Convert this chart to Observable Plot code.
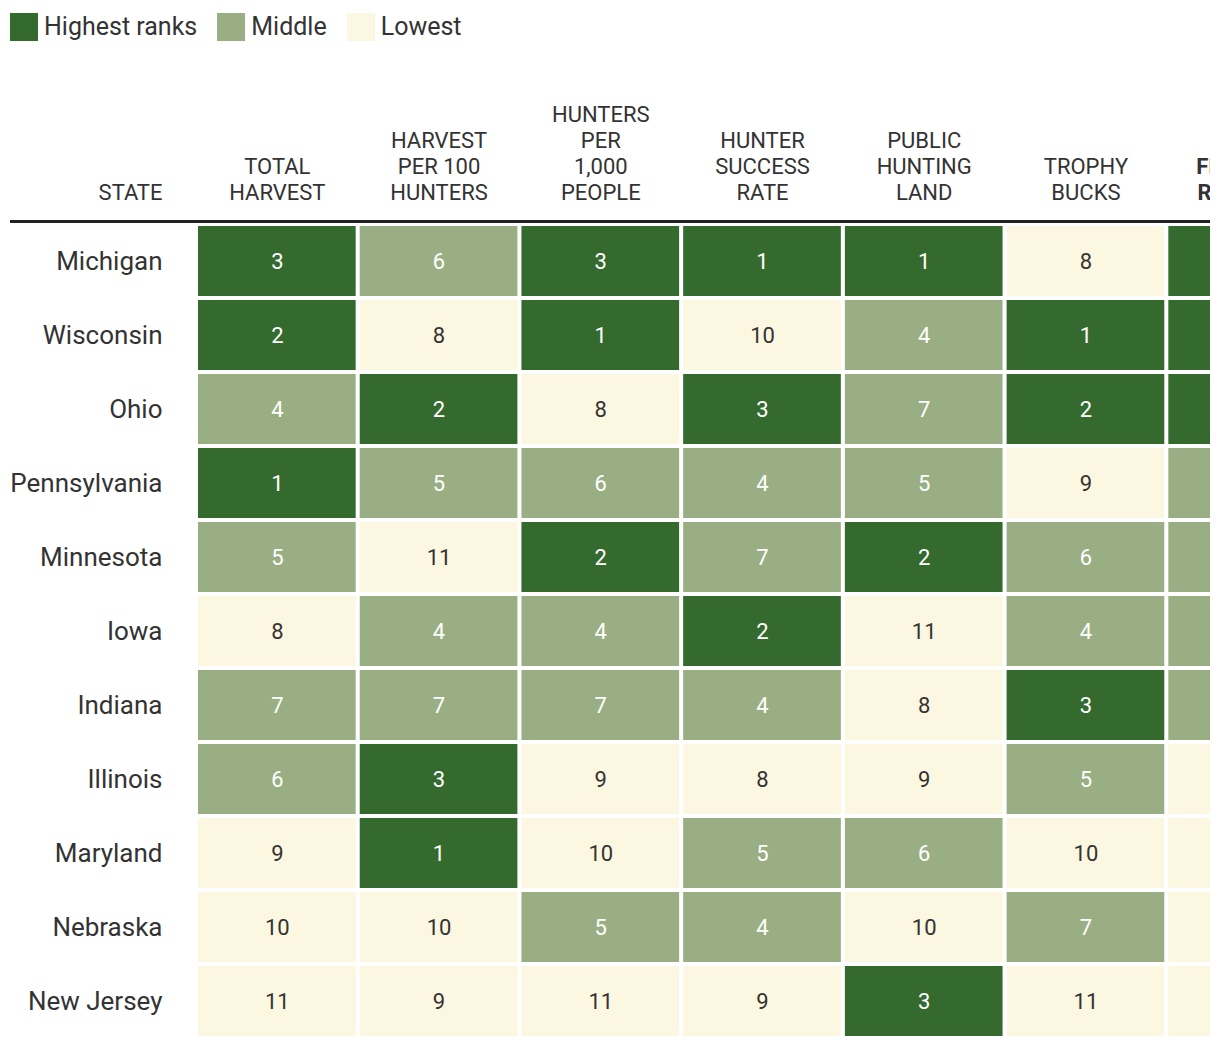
<!DOCTYPE html>
<html>
<head>
<meta charset="utf-8">
<script src="https://cdn.jsdelivr.net/npm/d3@7"></script>
<script src="https://cdn.jsdelivr.net/npm/@observablehq/plot@0.6"></script>
<style>
  html, body { margin: 0; padding: 0; background: #fff; overflow: hidden; width: 1220px; }
  body { font-family: Roboto, "Noto Sans", sans-serif; color: #333; }
  #legend { height: 60px; display: flex; align-items: flex-start; padding-left: 10px; box-sizing: border-box; }
  .item { display: flex; align-items: center; margin-top: 13px; margin-right: 20px; font-size: 25px; line-height: 28px; }
  .sw { width: 28px; height: 28px; margin-right: 6px; display: inline-block; }
  #chart { width: 1210px; overflow: hidden; }
  #chart svg { max-width: none !important; display: block; }
</style>
</head>
<body>
<div id="legend"></div>
<div id="chart"></div>
<script>
// ---- data ----
const states = ["Michigan", "Wisconsin", "Ohio", "Pennsylvania", "Minnesota", "Iowa", "Indiana", "Illinois", "Maryland", "Nebraska", "New Jersey"];
const metrics = ["TOTAL\nHARVEST", "HARVEST\nPER 100\nHUNTERS", "HUNTERS\nPER\n1,000\nPEOPLE", "HUNTER\nSUCCESS\nRATE", "PUBLIC\nHUNTING\nLAND", "TROPHY\nBUCKS", "FINAL\nRANK"];
const totalHarvest   = [3, 2, 4, 1, 5, 8, 7, 6, 9, 10, 11];
const harvestPer100  = [6, 8, 2, 5, 11, 4, 7, 3, 1, 10, 9];
const huntersPer1000 = [3, 1, 8, 6, 2, 4, 7, 9, 10, 5, 11];
const successRate    = [1, 10, 3, 4, 7, 2, 4, 8, 5, 4, 9];
const publicLand     = [1, 4, 7, 5, 2, 11, 8, 9, 6, 10, 3];
const trophyBucks    = [8, 1, 2, 9, 6, 4, 3, 5, 10, 7, 11];
const finalRank      = [1, 2, 3, 4, 5, 6, 7, 8, 9, 10, 11];
const legendLabels = ["Highest ranks", "Middle", "Lowest"];
const tierColors = ["#356a2f", "#99af83", "#fcf7e0"];

const series = [totalHarvest, harvestPer100, huntersPer1000, successRate, publicLand, trophyBucks, finalRank];
const table = states.flatMap((s, i) => metrics.map((m, j) => ({state: s, metric: m, rank: series[j][i]})));

// ---- legend ----
const legend = d3.select("#legend");
legendLabels.forEach((l, i) => {
  const it = legend.append("div").attr("class", "item");
  it.append("span").attr("class", "sw").style("background", tierColors[i]);
  it.append("span").text(l);
});

// ---- chart ----
const headerRule = (index, scales, values, dims) => {
  return d3.create("svg:line")
    .attr("x1", 10).attr("x2", dims.width)
    .attr("y1", dims.marginTop - 4.5).attr("y2", dims.marginTop - 4.5)
    .attr("stroke", "#222").attr("stroke-width", 3).node();
};

const headerOpts = {anchor: "top", tickSize: 0, tickPadding: 27, fontSize: 22, lineHeight: 1.18, lineAnchor: "bottom", label: null};

const chart = Plot.plot({
  width: 1330,
  height: 994,
  marginTop: 166,
  marginLeft: 198,
  marginRight: 4,
  marginBottom: 18,
  style: {fontFamily: "Roboto, 'Noto Sans', sans-serif", color: "#333", maxWidth: "none", overflow: "visible"},
  x: {domain: metrics, paddingInner: 0.025, paddingOuter: 0, round: false, axis: null},
  y: {domain: states, paddingInner: 0.054, paddingOuter: 0, round: false, axis: null},
  color: {type: "threshold", domain: [4, 8], range: tierColors},
  marks: [
    Plot.cell(table, {x: "metric", y: "state", fill: "rank", inset: 0}),
    Plot.text(table.filter(d => d.rank < 8), {x: "metric", y: "state", text: "rank", fill: "white", fontSize: 22}),
    Plot.text(table.filter(d => d.rank >= 8), {x: "metric", y: "state", text: "rank", fill: "#333", fontSize: 22}),
    Plot.axisY({tickSize: 0, tickPadding: 36, fontSize: 26, label: null}),
    Plot.axisX(metrics.slice(0, 6), headerOpts),
    Plot.axisX(metrics.slice(6), {...headerOpts, fontWeight: "bold", dx: -21}),
    Plot.text(["STATE"], {frameAnchor: "top-left", textAnchor: "end", lineAnchor: "bottom", dx: -36, dy: -27, fontSize: 22, fill: "#333"}),
    headerRule
  ]
});
document.getElementById("chart").appendChild(chart);
</script>
</body>
</html>
